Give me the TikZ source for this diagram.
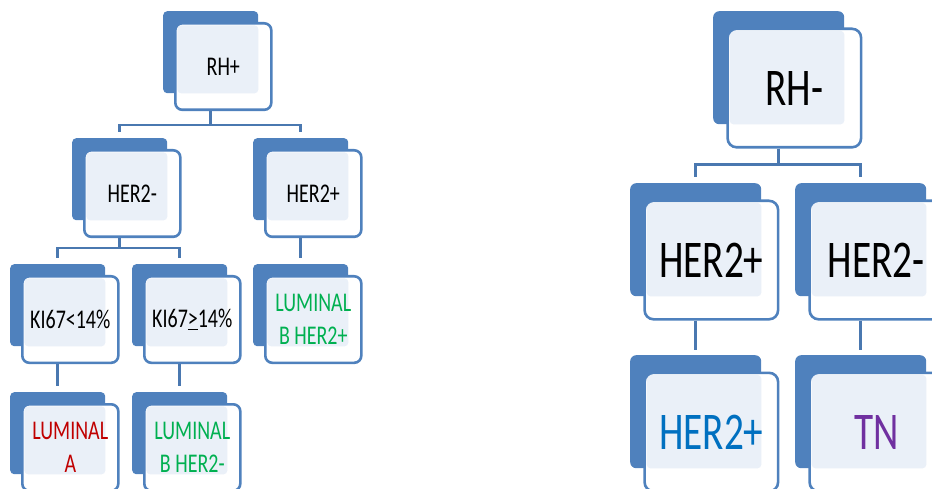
\documentclass[tikz,border=0pt]{standalone}
\usepackage{fontspec}
\setmainfont{Carlito}[FakeStretch=0.74]
\usetikzlibrary{positioning}
\definecolor{cardblue}{HTML}{4F81BD}
\definecolor{cardlight}{HTML}{EAF0F8}
\definecolor{linkblue}{HTML}{4A78B0}
\definecolor{lumred}{HTML}{C00000}
\definecolor{lumgreen}{HTML}{00B050}
\definecolor{herblue}{HTML}{0070C0}
\definecolor{tnpurple}{HTML}{7030A0}

\begin{document}
\begin{tikzpicture}[
    x=1pt, y=-1pt,
    sback/.style={fill=cardblue, rounded corners=4pt, inner sep=0pt, anchor=north west, minimum width=95pt, minimum height=82pt},
    lback/.style={sback, rounded corners=6pt, minimum width=131pt, minimum height=113pt},
    sfront/.style={draw=cardblue, line width=2.6pt, fill=white, rounded corners=7pt, inner sep=0pt, align=center,
        minimum width=96pt, minimum height=86.5pt, font=\fontsize{27}{33}\selectfont,
        path picture={\fill[cardlight, rounded corners=4pt] ([shift={(2pt,-2pt)}]path picture bounding box.north west) rectangle (#1.south east);}},
    lfront/.style={sfront=#1, rounded corners=9pt, minimum width=133.5pt, minimum height=118.5pt, font=\fontsize{53}{64}\selectfont},
    link/.style={draw=linkblue, line width=2.6pt}
]
    \useasboundingbox (0,0) rectangle (932,489);
    \clip (0,0) rectangle (932,489);

    % RH+ tree
    \node[sback] (rhpb) at (163,11) {};
    \node[sfront=rhpb, below right=11pt and 11pt of rhpb.north west] (rhpf) {RH+};
    \node[sback] (hnb) at (72,138) {};
    \node[sfront=hnb, below right=11pt and 11pt of hnb.north west] (hnf) {HER2-};
    \node[sback] (hpb) at (253,138) {};
    \node[sfront=hpb, below right=11pt and 11pt of hpb.north west] (hpf) {HER2+};
    \node[sback] (k1b) at (10,264) {};
    \node[sfront=k1b, below right=11pt and 11pt of k1b.north west] (k1f) {KI67<14\%};
    \node[sback] (k2b) at (132,264) {};
    \node[sfront=k2b, below right=11pt and 11pt of k2b.north west] (k2f) {KI67\underline{>}14\%};
    \node[sback] (lbpb) at (253,264) {};
    \node[sfront=lbpb, below right=11pt and 11pt of lbpb.north west, text=lumgreen] (lbpf) {LUMINAL\\B HER2+};
    \node[sback] (lab) at (10,392) {};
    \node[sfront=lab, below right=11pt and 11pt of lab.north west, text=lumred] (laf) {LUMINAL\\A};
    \node[sback] (lbnb) at (132,392) {};
    \node[sfront=lbnb, below right=11pt and 11pt of lbnb.north west, text=lumgreen] (lbnf) {LUMINAL\\B HER2-};

    \draw[link] (rhpb |- rhpf.south) -- ++(0,14) -| ([yshift=6pt]hnb.north);
    \draw[link] (rhpb |- rhpf.south) -- ++(0,14) -| ([yshift=6pt]hpb.north);
    \draw[link] (hnb |- hnf.south) -- ++(0,10) -| ([yshift=6pt]k1b.north);
    \draw[link] (hnb |- hnf.south) -- ++(0,10) -| ([yshift=6pt]k2b.north);
    \draw[link] (hpb |- hpf.south) -- ([yshift=6pt]lbpb.north);
    \draw[link] (k1b |- k1f.south) -- ([yshift=6pt]lab.north);
    \draw[link] (k2b |- k2f.south) -- ([yshift=6pt]lbnb.north);

    % RH- tree
    \node[lback] (rhnb) at (713,11) {};
    \node[lfront=rhnb, below right=16.5pt and 13.3pt of rhnb.north west] (rhnf) {RH-};
    \node[lback] (rpb) at (630,183) {};
    \node[lfront=rpb, below right=16.5pt and 13.3pt of rpb.north west] (rpf) {HER2+};
    \node[lback] (rnb) at (795,183) {};
    \node[lfront=rnb, below right=16.5pt and 13.3pt of rnb.north west] (rnf) {HER2-};
    \node[lback] (herb) at (630,355) {};
    \node[lfront=herb, below right=16.5pt and 13.3pt of herb.north west, text=herblue] (herf) {HER2+};
    \node[lback] (tnb) at (795,355) {};
    \node[lfront=tnb, below right=16.5pt and 13.3pt of tnb.north west, text=tnpurple] (tnf) {TN};

    \draw[link] (rhnb |- rhnf.south) -- ++(0,16) -| ([yshift=6pt]rpb.north);
    \draw[link] (rhnb |- rhnf.south) -- ++(0,16) -| ([yshift=6pt]rnb.north);
    \draw[link] (rpb |- rpf.south) -- ([yshift=5pt]herb.north);
    \draw[link] (rnb |- rnf.south) -- ([yshift=5pt]tnb.north);
\end{tikzpicture}
\end{document}
